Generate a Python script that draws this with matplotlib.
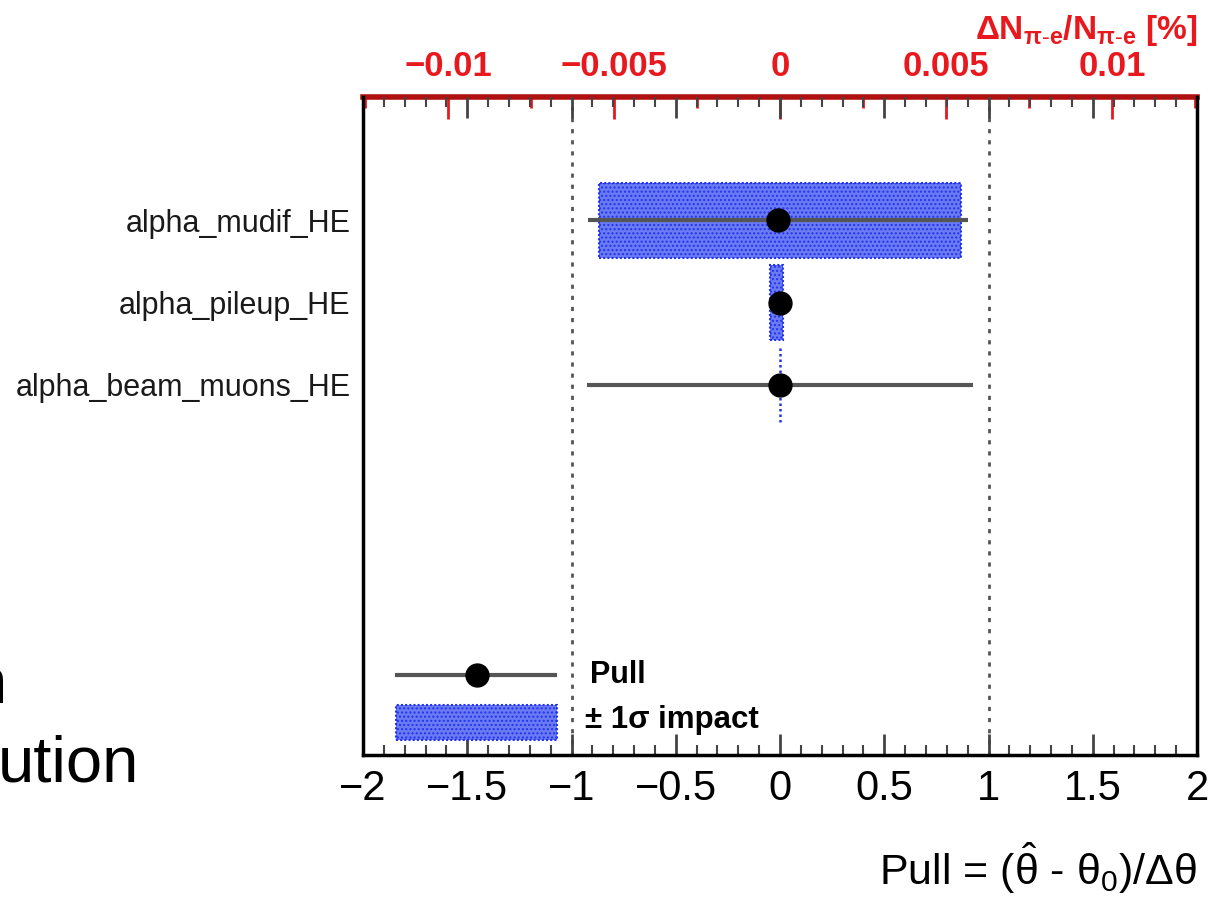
import matplotlib
matplotlib.use("Agg")
import matplotlib.pyplot as plt
from matplotlib.patches import Rectangle
from matplotlib.lines import Line2D
from matplotlib.ticker import MultipleLocator

plt.rcParams['font.family'] = ['Liberation Sans', 'DejaVu Sans']
plt.rcParams['mathtext.fontset'] = 'custom'
plt.rcParams['mathtext.rm'] = 'Liberation Sans'
plt.rcParams['mathtext.it'] = 'Liberation Sans:italic'
plt.rcParams['mathtext.bf'] = 'Liberation Sans:bold'

# ---- data ----
labels = ['alpha_mudif_HE', 'alpha_pileup_HE', 'alpha_beam_muons_HE']
rows = [6.5, 5.5, 4.5]
pull = [-0.01, 0.0, 0.0]
pull_err = [0.91, 0.0, 0.925]
impact_lo = [-0.00546, -0.00030, 0.0]   # [%]
impact_hi = [0.00546, 0.00009, 0.0]     # [%]
pull_ticks = [-2, -1.5, -1, -0.5, 0, 0.5, 1, 1.5, 2]
pull_ticklabels = ['\u22122', '\u22121.5', '\u22121', '\u22120.5', '0', '0.5', '1', '1.5', '2']
impact_ticks = [-0.01, -0.005, 0, 0.005, 0.01]
impact_ticklabels = ['\u22120.01', '\u22120.005', '0', '0.005', '0.01']
impact_range = 0.01256

BLUE_FILL = '#6b7bf4'
BLUE_EDGE = '#2233ee'

W, H = 1229, 901
fig = plt.figure(figsize=(W / 100, H / 100), dpi=100)
ax = fig.add_axes([363 / W, (H - 755) / H, (1197 - 363) / W, (755 - 97) / H])
ax.set_xlim(-2, 2)
ax.set_ylim(0, 8)

# dotted reference lines at +-1
for v in (-1, 1):
    ax.axvline(v, color='#555555', ls=(0, (1.5, 2.5)), lw=2, zorder=1)

# impact axis (top)
ax2 = ax.twiny()
ax2.set_xlim(-impact_range, impact_range)
for y, lo, hi in zip(rows, impact_lo, impact_hi):
    if hi - lo > 0:
        ax2.barh(y, hi - lo, left=lo, height=0.91, color=BLUE_FILL, edgecolor=BLUE_EDGE,
                 linewidth=1.5, linestyle=(0, (1, 1)), hatch='....', zorder=2)
    else:
        ax2.vlines(lo, y - 0.455, y + 0.455, color=BLUE_EDGE, linewidth=1.8,
                   linestyle=(0, (1, 1.2)), zorder=2)

# pulls
ax.errorbar(pull, rows, xerr=pull_err, fmt='o', color='black', ecolor='#555555',
            elinewidth=3, markersize=16.5, capsize=0, zorder=5)
ax.set_zorder(ax2.get_zorder() + 1)
ax.patch.set_visible(False)

# axes styling - bottom
ax.set_xticks(pull_ticks, pull_ticklabels)
ax.xaxis.set_minor_locator(MultipleLocator(0.1))
ax.tick_params(axis='x', which='major', direction='in', length=15, width=2, color='#444444',
               labelsize=30, pad=10, top=True, bottom=True, labeltop=False)
ax.tick_params(axis='x', which='minor', direction='in', length=7, width=1.5, color='#444444',
               top=True, bottom=True)
ax.set_yticks([1, 2, 3, 4, 5, 6, 7], [''] * 7)
ax.tick_params(axis='y', which='major', direction='in', length=22, width=2, color='#666666',
               left=True, right=True)
ax.set_yticks(rows, labels, minor=True)
ax.tick_params(axis='y', which='minor', length=0, labelsize=22, pad=9, labelcolor='#1a1a1a')
for s in ('left', 'bottom', 'right'):
    ax.spines[s].set_linewidth(2.5)
ax.spines['top'].set_visible(False)

# top axis
ax2.set_xticks(impact_ticks, impact_ticklabels)
ax2.xaxis.set_minor_locator(MultipleLocator(0.0025))
ax2.tick_params(axis='x', which='major', direction='in', length=16, width=2, color='#e8191e',
                labelsize=25, labelcolor='#e8191e', pad=10)
ax2.tick_params(axis='x', which='minor', direction='in', length=8, width=2, color='#e8191e')
for lab in ax2.get_xticklabels():
    lab.set_fontweight('bold')
ax2.spines['top'].set_color('#b01010')
ax2.spines['top'].set_linewidth(4)
for s in ('left', 'bottom', 'right'):
    ax2.spines[s].set_visible(False)
ax2.set_yticks([])

# title of top axis
fig.text(1197 / W, (H - 30) / H,
         r'$\mathbf{\Delta}$N$_{\mathbf{\pi}\mathbf{\text{-}e}}$/N$_{\mathbf{\pi}\mathbf{\text{-}e}}$ [%]',
         color='#e8191e', fontsize=24, fontweight='bold', ha='right', va='center')

# x label
fig.text(1197 / W, (H - 868) / H,
         r'Pull = ($\hat{\mathrm{\theta}}$ - $\mathrm{\theta}_{0}$)/$\mathrm{\Delta\theta}$',
         fontsize=31, ha='right', va='center')

# legend (drawn manually in axes coordinates)
t = ax.transAxes
ax.add_line(Line2D([0.041, 0.230], [0.1216, 0.1216], transform=t, color='#555555', lw=3, zorder=5))
ax.add_line(Line2D([0.137], [0.1216], transform=t, marker='o', color='black', markersize=16.5, zorder=6))
ax.add_patch(Rectangle((0.040, 0.023), 0.193, 0.053, transform=t, facecolor=BLUE_FILL,
                       edgecolor=BLUE_EDGE, linewidth=1.5, linestyle=(0, (1, 1)), hatch='....', zorder=5))
ax.text(0.272, 0.1216, 'Pull', transform=t, fontsize=22, fontweight='bold', va='center', ha='left')
ax.text(0.266, 0.053, '\u00b1 1\u03c3 impact', transform=t, fontsize=22.5, fontweight='bold',
        va='center', ha='left')

# cropped slide text fragments on the left
fig.text(7 / W, (H - 703) / H, 'n', fontsize=47, ha='right', va='baseline')
fig.text(-2 / W, (H - 782) / H, 'ution', fontsize=47, ha='left', va='baseline')

fig.savefig('out.png', dpi=100)
